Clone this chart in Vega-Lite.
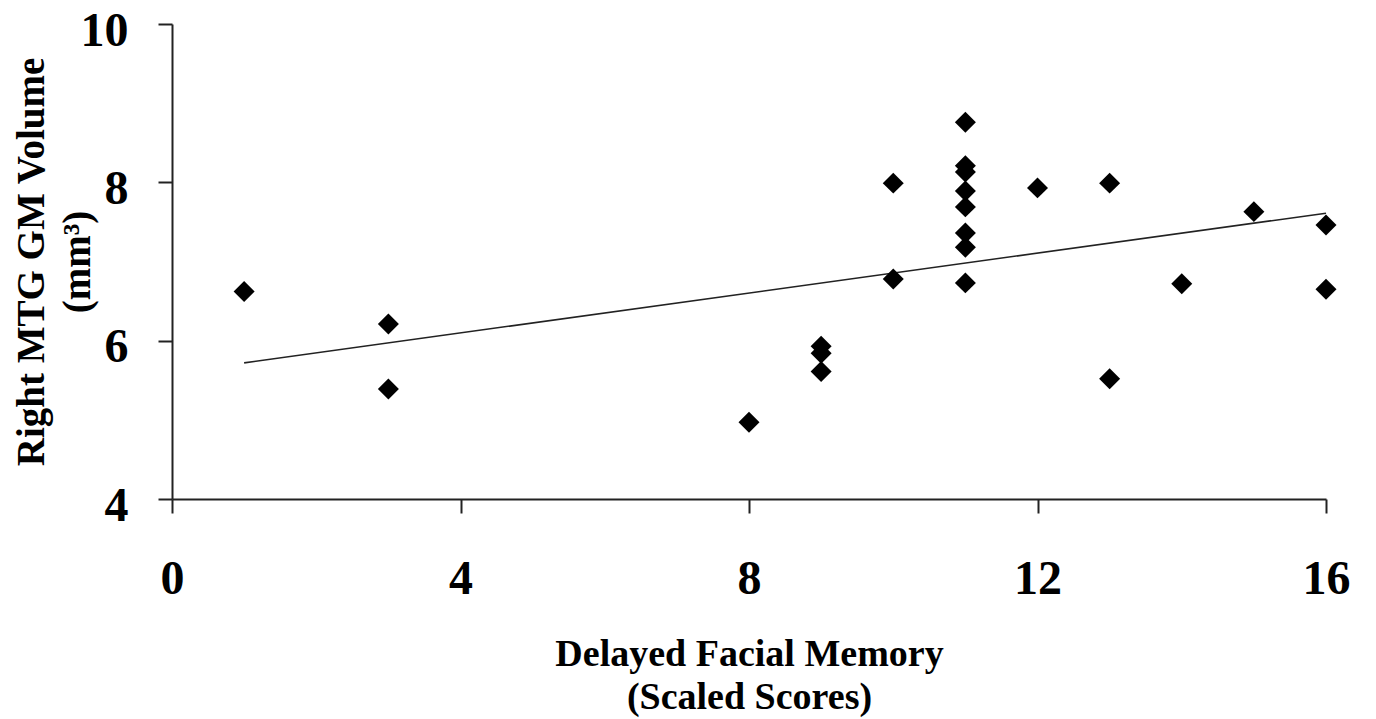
{
  "$schema": "https://vega.github.io/schema/vega-lite/v6.json",
  "autosize": "none",
  "width": 1154,
  "height": 475,
  "padding": {"left": 172, "top": 24, "right": 50, "bottom": 220},
  "background": "white",
  "config": {
    "view": {"stroke": null},
    "font": "Liberation Serif",
    "axis": {
      "grid": false,
      "domainColor": "#222222",
      "domainWidth": 2,
      "tickColor": "#222222",
      "tickWidth": 2,
      "tickSize": 14,
      "labelFont": "Liberation Serif",
      "labelFontWeight": "bold",
      "labelFontSize": 48,
      "labelColor": "black",
      "labelFlush": false,
      "labelOverlap": false,
      "titleFont": "Liberation Serif",
      "titleFontWeight": "bold",
      "titleColor": "black"
    }
  },
  "datasets": {
    "points": [
      {"score": 1, "volume": 6.62},
      {"score": 3, "volume": 6.21},
      {"score": 3, "volume": 5.39},
      {"score": 8, "volume": 4.97},
      {"score": 9, "volume": 5.93},
      {"score": 9, "volume": 5.84},
      {"score": 9, "volume": 5.61},
      {"score": 10, "volume": 7.99},
      {"score": 10, "volume": 6.78},
      {"score": 11, "volume": 8.76},
      {"score": 11, "volume": 8.21},
      {"score": 11, "volume": 8.13},
      {"score": 11, "volume": 7.89},
      {"score": 11, "volume": 7.69},
      {"score": 11, "volume": 7.36},
      {"score": 11, "volume": 7.18},
      {"score": 11, "volume": 6.73},
      {"score": 12, "volume": 7.93},
      {"score": 13, "volume": 7.99},
      {"score": 13, "volume": 5.52},
      {"score": 14, "volume": 6.72},
      {"score": 15, "volume": 7.63},
      {"score": 16, "volume": 7.46},
      {"score": 16, "volume": 6.65}
    ],
    "trend": [
      {"score": 1, "volume": 5.72},
      {"score": 16, "volume": 7.61}
    ]
  },
  "layer": [
    {
      "data": {"name": "trend"},
      "mark": {"type": "line", "color": "#222222", "strokeWidth": 1.6},
      "encoding": {
        "x": {"field": "score", "type": "quantitative"},
        "y": {"field": "volume", "type": "quantitative"}
      }
    },
    {
      "data": {"name": "points"},
      "mark": {"type": "point", "shape": "diamond", "filled": true, "color": "black", "opacity": 1, "size": 440},
      "encoding": {
        "x": {
          "field": "score",
          "type": "quantitative",
          "scale": {"domain": [0, 16], "nice": false, "zero": false},
          "axis": {
            "values": [0, 4, 8, 12, 16],
            "format": "d",
            "labelBaseline": "alphabetic",
            "labelPadding": 80,
            "title": ["Delayed Facial Memory", "(Scaled Scores)"],
            "titleFontSize": 38,
            "titleBaseline": "alphabetic",
            "titleY": 166,
            "titleLineHeight": 43
          }
        },
        "y": {
          "field": "volume",
          "type": "quantitative",
          "scale": {"domain": [4, 10], "nice": false, "zero": false},
          "axis": {
            "values": [4, 6, 8, 10],
            "format": "d",
            "labelBaseline": "alphabetic",
            "labelOffset": 21,
            "labelPadding": 30,
            "title": ["Right MTG GM Volume", "(mm³)"],
            "titleFontSize": 39,
            "titleBaseline": "alphabetic",
            "titleX": -129,
            "titleLineHeight": 46
          }
        }
      }
    }
  ]
}
